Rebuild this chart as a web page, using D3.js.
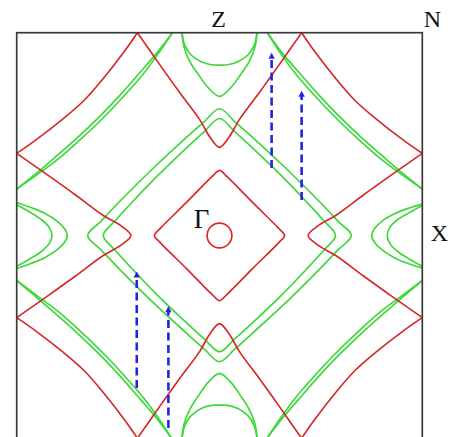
<!DOCTYPE html>
<html>
<head>
<meta charset="utf-8">
<script src="https://cdnjs.cloudflare.com/ajax/libs/d3/7.8.5/d3.min.js"></script>
<style>
body{margin:0;background:#fff;}
svg{display:block;}
.zoneLabel{font-family:"Liberation Serif","Times New Roman",serif;fill:#111;}
</style>
</head>
<body>
<div id="chart"></div>
<script>
// k-points in units of the zone half width: kx, ky in [-1,1], Gamma in the middle
var ZONE_LABELS = [{"text":"Z","k":[0,1]},{"text":"N","k":[1,1]},{"text":"X","k":[1,0]},{"text":"Γ","k":[0,0]}];

// ----------------------------- RED sheets -----------------------------
var RED_GAMMA_RADIUS = 0.061;

var RED_GAMMA_DIAMOND = [[0,0.321],[0.036,0.291],[0.163,0.163],[0.291,0.036],[0.321,0],[0.291,-0.036],[0.163,-0.163],[0.036,-0.291],
	[0,-0.321],[-0.036,-0.291],[-0.163,-0.163],[-0.291,-0.036],[-0.321,0],[-0.291,0.036],[-0.163,0.163],[-0.036,0.291]];

var RED_Z_SHEETS = [
	[[-0.405,1],[-0.30,0.85],[-0.20,0.71],[-0.10,0.575],[-0.045,0.482],[0,0.435],[0.045,0.482],[0.10,0.575],[0.20,0.71],[0.30,0.85],[0.405,1]],
	[[-0.405,-1],[-0.30,-0.85],[-0.20,-0.71],[-0.10,-0.575],[-0.045,-0.482],[0,-0.435],[0.045,-0.482],[0.10,-0.575],[0.20,-0.71],[0.30,-0.85],[0.405,-1]]
];

var RED_X_SHEETS = [
	[[-1,0.405],[-0.85,0.30],[-0.71,0.20],[-0.575,0.10],[-0.482,0.045],[-0.437,0],[-0.482,-0.045],[-0.575,-0.10],[-0.71,-0.20],[-0.85,-0.30],[-1,-0.405]],
	[[1,0.405],[0.85,0.30],[0.71,0.20],[0.575,0.10],[0.482,0.045],[0.437,0],[0.482,-0.045],[0.575,-0.10],[0.71,-0.20],[0.85,-0.30],[1,-0.405]]
];

var RED_CORNER_ARCS = [
	[[-1,0.405],[-0.915,0.464],[-0.767,0.579],[-0.667,0.667],[-0.579,0.767],[-0.464,0.915],[-0.405,1]],
	[[1,0.405],[0.915,0.464],[0.767,0.579],[0.667,0.667],[0.579,0.767],[0.464,0.915],[0.405,1]],
	[[-1,-0.405],[-0.915,-0.464],[-0.767,-0.579],[-0.667,-0.667],[-0.579,-0.767],[-0.464,-0.915],[-0.405,-1]],
	[[1,-0.405],[0.915,-0.464],[0.767,-0.579],[0.667,-0.667],[0.579,-0.767],[0.464,-0.915],[0.405,-1]]
];

// ----------------------------- GREEN sheets -----------------------------
// thin double bands near the N corners
var GREEN_CORNER_BANDS = [
	[[-1,0.229],[-0.893,0.315],[-0.805,0.391],[-0.695,0.488],[-0.589,0.589],[-0.488,0.695],[-0.391,0.805],[-0.315,0.893],[-0.232,1]],
	[[-1,0.229],[-0.887,0.309],[-0.793,0.379],[-0.683,0.476],[-0.577,0.577],[-0.476,0.683],[-0.379,0.793],[-0.309,0.887],[-0.232,1]],
	[[1,0.229],[0.893,0.315],[0.805,0.391],[0.695,0.488],[0.589,0.589],[0.488,0.695],[0.391,0.805],[0.315,0.893],[0.236,1]],
	[[1,0.229],[0.887,0.309],[0.793,0.379],[0.683,0.476],[0.577,0.577],[0.476,0.683],[0.379,0.793],[0.309,0.887],[0.236,1]],
	[[-1,-0.222],[-0.893,-0.312],[-0.805,-0.389],[-0.695,-0.487],[-0.589,-0.589],[-0.488,-0.696],[-0.391,-0.807],[-0.315,-0.895],[-0.236,-1]],
	[[-1,-0.222],[-0.887,-0.306],[-0.793,-0.377],[-0.683,-0.475],[-0.577,-0.577],[-0.476,-0.684],[-0.379,-0.795],[-0.309,-0.889],[-0.236,-1]],
	[[1,-0.222],[0.893,-0.312],[0.805,-0.389],[0.695,-0.487],[0.589,-0.589],[0.488,-0.696],[0.391,-0.807],[0.315,-0.895],[0.234,-1]],
	[[1,-0.222],[0.887,-0.306],[0.793,-0.377],[0.683,-0.475],[0.577,-0.577],[0.476,-0.684],[0.379,-0.795],[0.309,-0.889],[0.234,-1]]
];

// boomerang pockets around Z (top/bottom): outer V and inner U
var GREEN_Z_POCKETS = [
	[[-0.185,1],[-0.175,0.93],[-0.145,0.855],[-0.105,0.795],[-0.055,0.728],[0,0.686],[0.055,0.728],[0.105,0.795],[0.145,0.855],[0.175,0.93],[0.185,1]],
	[[-0.185,1],[-0.172,0.94],[-0.14,0.89],[-0.09,0.857],[-0.04,0.842],[0,0.84],[0.04,0.842],[0.09,0.857],[0.14,0.89],[0.172,0.94],[0.185,1]],
	[[-0.185,-1],[-0.175,-0.93],[-0.145,-0.855],[-0.105,-0.792],[-0.055,-0.723],[0,-0.68],[0.055,-0.723],[0.105,-0.792],[0.145,-0.855],[0.175,-0.93],[0.185,-1]],
	[[-0.185,-1],[-0.172,-0.94],[-0.14,-0.888],[-0.09,-0.853],[-0.04,-0.838],[0,-0.836],[0.04,-0.838],[0.09,-0.853],[0.14,-0.888],[0.172,-0.94],[0.185,-1]]
];

// pockets around X (left/right)
var GREEN_X_POCKETS = [
	[[-1,0.163],[-0.93,0.138],[-0.86,0.108],[-0.80,0.07],[-0.763,0.032],[-0.75,0],[-0.763,-0.032],[-0.80,-0.07],[-0.86,-0.108],[-0.93,-0.138],[-1,-0.163]],
	[[-1,0.152],[-0.94,0.118],[-0.88,0.08],[-0.84,0.04],[-0.826,0],[-0.84,-0.04],[-0.88,-0.08],[-0.94,-0.118],[-1,-0.152]],
	[[1,0.155],[0.93,0.134],[0.86,0.106],[0.80,0.07],[0.763,0.032],[0.75,0],[0.763,-0.032],[0.80,-0.07],[0.86,-0.108],[0.93,-0.138],[1,-0.16]],
	[[1,0.148],[0.94,0.115],[0.88,0.08],[0.84,0.04],[0.827,0],[0.84,-0.04],[0.88,-0.08],[0.94,-0.118],[1,-0.152]]
];

// two nested rounded squares around Gamma
var GREEN_GAMMA_SQUARES = [
	[[0,0.625],[0.075,0.562],[0.17,0.478],[0.336,0.323],[0.496,0.164],[0.585,0.07],[0.65,0],[0.585,-0.07],[0.496,-0.163],[0.336,-0.322],[0.17,-0.475],[0.075,-0.56],
	 [0,-0.622],[-0.075,-0.56],[-0.17,-0.475],[-0.336,-0.322],[-0.496,-0.163],[-0.585,-0.07],[-0.65,0],[-0.585,0.07],[-0.496,0.164],[-0.336,0.323],[-0.17,0.478],[-0.075,0.562]],
	[[0,0.577],[0.075,0.512],[0.165,0.43],[0.30,0.30],[0.43,0.165],[0.512,0.075],[0.572,0],[0.512,-0.075],[0.43,-0.165],[0.30,-0.30],[0.165,-0.428],[0.075,-0.51],
	 [0,-0.573],[-0.075,-0.51],[-0.165,-0.428],[-0.30,-0.30],[-0.43,-0.165],[-0.512,-0.075],[-0.573,0],[-0.512,0.075],[-0.43,0.165],[-0.30,0.30],[-0.165,0.43],[-0.075,0.512]]
];

// ----------------------------- nesting vectors (blue) -----------------------------
var NESTING_KX = [0.257,0.405,-0.408,-0.252];
var NESTING_FROM = [0.333,0.175,-0.752,-0.949];
var NESTING_TO = [0.901,0.714,-0.177,-0.349];


// ----------------------------------------------------------------------------------------------------------------
var WIDTH = 453, HEIGHT = 437;
var COLOR_RED = "#d42a2e", COLOR_GREEN = "#3fd83a", COLOR_BLUE = "#2323e0";
var SHEET_WIDTH = 1.7;

var svg = d3.select("#chart").append("svg").attr("width",WIDTH).attr("height",HEIGHT);

var x = d3.scaleLinear().domain([-1,1]).range([16.7,422.3]);
var y = d3.scaleLinear().domain([-1,1]).range([438.3,32.7]);

var openLine = d3.line().x(function(d){return x(d[0]);}).y(function(d){return y(d[1]);}).curve(d3.curveCatmullRom.alpha(0.5));
var closedLine = d3.line().x(function(d){return x(d[0]);}).y(function(d){return y(d[1]);}).curve(d3.curveCatmullRomClosed.alpha(0.5));

svg.append("clipPath").attr("id","zone")
	.append("rect").attr("x",x(-1)).attr("y",y(1)).attr("width",x(1)-x(-1)).attr("height",y(-1)-y(1));

var gSheets = svg.append("g").attr("id","sheets").attr("clip-path","url(#zone)");

drawSheets(gSheets);
drawNesting(svg);
drawFrame(svg);
drawLabels(svg);


function drawSheets(g){
	var gGreen = g.append("g").attr("id","green");
	_drawCurves(gGreen,GREEN_CORNER_BANDS,openLine,COLOR_GREEN);
	_drawCurves(gGreen,GREEN_Z_POCKETS,openLine,COLOR_GREEN);
	_drawCurves(gGreen,GREEN_X_POCKETS,openLine,COLOR_GREEN);
	_drawCurves(gGreen,GREEN_GAMMA_SQUARES,closedLine,COLOR_GREEN);

	var gRed = g.append("g").attr("id","red");
	_drawCurves(gRed,[RED_GAMMA_DIAMOND],closedLine,COLOR_RED);
	_drawCurves(gRed,RED_Z_SHEETS,openLine,COLOR_RED);
	_drawCurves(gRed,RED_X_SHEETS,openLine,COLOR_RED);
	_drawCurves(gRed,RED_CORNER_ARCS,openLine,COLOR_RED);

	gRed.append("circle")
		.attr("cx",x(0)).attr("cy",y(0))
		.attr("r",x(RED_GAMMA_RADIUS)-x(0))
		.attr("fill","none").attr("stroke",COLOR_RED).attr("stroke-width",SHEET_WIDTH);
}

	function _drawCurves(g,curves,gen,color){
		g.selectAll(null).data(curves).enter().append("path")
			.attr("d",gen)
			.attr("fill","none")
			.attr("stroke",color)
			.attr("stroke-width",SHEET_WIDTH)
			.attr("stroke-linejoin","round");
	}


function drawNesting(g){
	var gN = g.append("g").attr("id","nesting");
	var _head = 6;
	NESTING_KX.forEach(function(k,i){
		var _x = x(k), _y0 = y(NESTING_FROM[i]), _y1 = y(NESTING_TO[i]);
		gN.append("line")
			.attr("x1",_x).attr("y1",_y0).attr("x2",_x).attr("y2",_y1+_head-1)
			.attr("stroke",COLOR_BLUE).attr("stroke-width",2.6)
			.attr("stroke-dasharray","8,4.5");
		gN.append("path")
			.attr("d","M"+_x+","+_y1+"L"+(_x-3.2)+","+(_y1+_head)+"L"+(_x+3.2)+","+(_y1+_head)+"Z")
			.attr("fill",COLOR_BLUE);
	});
}

function drawFrame(g){
	g.append("rect")
		.attr("x",x(-1)).attr("y",y(1))
		.attr("width",x(1)-x(-1)).attr("height",y(-1)-y(1))
		.attr("fill","none").attr("stroke","#3a3a3a").attr("stroke-width",1.7);
}

function drawLabels(g){
	// label offsets from their k-point, px, and font size
	var _off = {"Z":[-1,-6,24],"N":[10,-6,24],"X":[17,5,24],"Γ":[-18,-8,27]};
	g.selectAll("text.zoneLabel").data(ZONE_LABELS).enter().append("text")
		.attr("class","zoneLabel")
		.attr("x",function(d){return x(d.k[0])+_off[d.text][0];})
		.attr("y",function(d){return y(d.k[1])+_off[d.text][1];})
		.attr("text-anchor","middle")
		.style("font-size",function(d){return _off[d.text][2]+"px";})
		.text(function(d){return d.text;});
}
</script>
</body>
</html>
